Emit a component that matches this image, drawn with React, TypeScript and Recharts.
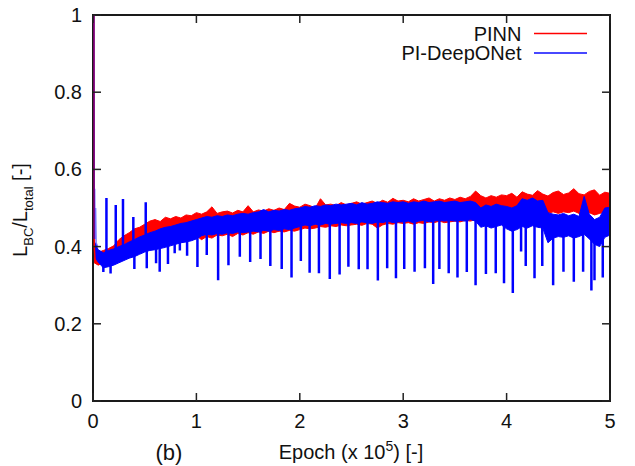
import React from "react";
import {
  ComposedChart,
  Area,
  Line,
  XAxis,
  YAxis,
  ReferenceArea,
  Label,
} from "recharts";

// band sampled every 0.05 (x 1e5 epochs), 0 .. 5
const RED_HI = [
  0.42, 0.385, 0.39, 0.395, 0.402, 0.418, 0.428, 0.436, 0.446, 0.45,
  0.458, 0.466, 0.47, 0.465, 0.476, 0.472, 0.478, 0.474, 0.482, 0.48,
  0.488, 0.484, 0.49, 0.503, 0.486, 0.49, 0.492, 0.487, 0.494, 0.49,
  0.506, 0.49, 0.495, 0.492, 0.498, 0.494, 0.5, 0.496, 0.512, 0.505,
  0.502, 0.51, 0.506, 0.5, 0.524, 0.508, 0.51, 0.506, 0.514, 0.508,
  0.512, 0.516, 0.51, 0.514, 0.518, 0.512, 0.52, 0.515, 0.525, 0.518,
  0.52, 0.516, 0.524, 0.518, 0.522, 0.526, 0.518, 0.524, 0.52, 0.526,
  0.522, 0.528, 0.524, 0.53, 0.544, 0.532, 0.526, 0.532, 0.528, 0.534,
  0.532, 0.538, 0.528, 0.542, 0.536, 0.533, 0.545, 0.536, 0.531, 0.54,
  0.544, 0.535, 0.539, 0.55, 0.537, 0.534, 0.543, 0.547, 0.533, 0.541,
  0.538,
];
const RED_LO = [
  0.36, 0.352, 0.358, 0.362, 0.37, 0.378, 0.388, 0.392, 0.398, 0.404,
  0.41, 0.414, 0.418, 0.42, 0.422, 0.425, 0.428, 0.43, 0.428, 0.432,
  0.428, 0.418, 0.426, 0.422, 0.43, 0.428, 0.432, 0.426, 0.434, 0.43,
  0.436, 0.432, 0.438, 0.434, 0.44, 0.436, 0.44, 0.438, 0.442, 0.44,
  0.444, 0.448, 0.446, 0.448, 0.452, 0.45, 0.454, 0.452, 0.456, 0.454,
  0.456, 0.458, 0.455, 0.46, 0.458, 0.448, 0.456, 0.46, 0.458, 0.462,
  0.46, 0.462, 0.458, 0.462, 0.46, 0.464, 0.462, 0.466, 0.462, 0.464,
  0.466, 0.464, 0.468, 0.466, 0.47, 0.48, 0.484, 0.482, 0.486, 0.484,
  0.486, 0.488, 0.484, 0.49, 0.486, 0.488, 0.484, 0.49, 0.486, 0.49,
  0.486, 0.49, 0.488, 0.492, 0.486, 0.484, 0.488, 0.482, 0.486, 0.49,
  0.488,
];
const BLUE_HI = [
  0.42, 0.392, 0.384, 0.39, 0.394, 0.4, 0.405, 0.412, 0.418, 0.425,
  0.43, 0.436, 0.44, 0.446, 0.45, 0.452, 0.456, 0.46, 0.462, 0.466,
  0.47, 0.474, 0.478, 0.476, 0.48, 0.478, 0.482, 0.48, 0.484, 0.486,
  0.484, 0.488, 0.49, 0.496, 0.49, 0.494, 0.492, 0.496, 0.494, 0.498,
  0.5, 0.504, 0.502, 0.506, 0.504, 0.508, 0.506, 0.51, 0.508, 0.51,
  0.512, 0.508, 0.514, 0.51, 0.512, 0.516, 0.514, 0.512, 0.516, 0.514,
  0.516, 0.512, 0.516, 0.514, 0.518, 0.514, 0.516, 0.518, 0.514, 0.516,
  0.518, 0.514, 0.516, 0.518, 0.514, 0.5, 0.508, 0.504, 0.51, 0.506,
  0.504, 0.5, 0.506, 0.524, 0.52, 0.526, 0.518, 0.52, 0.488, 0.484,
  0.482, 0.486, 0.48, 0.484, 0.478, 0.53, 0.484, 0.47, 0.476, 0.5,
  0.502,
];
const BLUE_LO = [
  0.38, 0.36, 0.345, 0.348, 0.352, 0.358, 0.364, 0.37, 0.374, 0.38,
  0.386, 0.39, 0.392, 0.395, 0.398, 0.402, 0.406, 0.41, 0.412, 0.415,
  0.42, 0.428, 0.432, 0.43, 0.434, 0.432, 0.436, 0.434, 0.438, 0.436,
  0.438, 0.44, 0.438, 0.442, 0.44, 0.444, 0.442, 0.446, 0.444, 0.448,
  0.452, 0.456, 0.454, 0.458, 0.456, 0.46, 0.458, 0.46, 0.462, 0.46,
  0.462, 0.46, 0.464, 0.462, 0.46, 0.464, 0.462, 0.466, 0.462, 0.464,
  0.464, 0.466, 0.462, 0.466, 0.468, 0.464, 0.466, 0.468, 0.466, 0.468,
  0.466, 0.468, 0.466, 0.47, 0.466, 0.45, 0.454, 0.448, 0.452, 0.456,
  0.446, 0.44, 0.444, 0.452, 0.448, 0.454, 0.45, 0.448, 0.41, 0.422,
  0.426, 0.424, 0.428, 0.422, 0.426, 0.432, 0.42, 0.406, 0.4, 0.424,
  0.43,
];

// initial transient
const RED_START_X = [0.01, 0.012, 0.02];
const RED_START_Y = [1.0, 0.4, 0.365];
const BLUE_START_X = [0.01, 0.012, 0.016, 0.02, 0.025, 0.03, 0.045];
const BLUE_START_Y = [1.0, 0.42, 0.55, 0.42, 0.5, 0.41, 0.4];

// sharp blue spikes (mostly downward)
const BLUE_SPIKE_X = [
  0.1, 0.13, 0.17, 0.22, 0.29, 0.39, 0.4, 0.51, 0.52, 0.61, 0.645, 0.725, 0.79, 0.84, 0.91,
  1.01, 1.1, 1.21, 1.31, 1.42, 1.52, 1.62, 1.715, 1.825, 1.92,
  2.01, 2.095, 2.185, 2.29, 2.385, 2.47, 2.57, 2.655, 2.755, 2.845, 2.93,
  3.01, 3.11, 3.21, 3.29, 3.35, 3.44, 3.525, 3.615, 3.7, 3.8, 3.895, 3.975,
  4.06, 4.14, 4.185, 4.27, 4.345, 4.45, 4.55, 4.65, 4.74, 4.82, 4.85, 4.93,
];
const BLUE_SPIKE_Y = [
  0.334, 0.526, 0.33, 0.508, 0.523, 0.477, 0.342, 0.515, 0.344, 0.357, 0.335, 0.355, 0.383, 0.39, 0.376,
  0.347, 0.378, 0.313, 0.352, 0.374, 0.36, 0.368, 0.35, 0.342, 0.32,
  0.363, 0.332, 0.331, 0.316, 0.328, 0.348, 0.341, 0.341, 0.312, 0.344, 0.318,
  0.342, 0.335, 0.344, 0.303, 0.342, 0.331, 0.32, 0.334, 0.3, 0.329, 0.331, 0.305,
  0.28, 0.387, 0.35, 0.318, 0.35, 0.3, 0.335, 0.309, 0.335, 0.286, 0.313, 0.32,
];

const X_TICKS = [0, 1, 2, 3, 4, 5];
const Y_TICKS = [0, 0.2, 0.4, 0.6, 0.8, 1];
const SERIES = ["PINN", "PI-DeepONet"];

const STEP = 0.05;
const FONT = "'Liberation Sans', Arial, Helvetica, sans-serif";
const RED = "#ff0000";
const BLUE = "#0000ff";

const PLOT = { left: 93, right: 610, top: 15, bottom: 401 };

const redBand = RED_HI.map((h, i) => ({ x: +(i * STEP).toFixed(2), r: [RED_LO[i], h] }));
const blueBand = BLUE_HI.map((h, i) => ({ x: +(i * STEP).toFixed(2), r: [BLUE_LO[i], h] }));

const redStart = RED_START_X.map((x, i) => ({ x, v: RED_START_Y[i] }));
const blueStart = BLUE_START_X.map((x, i) => ({ x, v: BLUE_START_Y[i] }));

const blueSpikes: { x: number; v: number }[] = [];
BLUE_SPIKE_X.forEach((x, i) => {
  const k = Math.round(x / STEP);
  const base = (BLUE_LO[k] + BLUE_HI[k]) / 2;
  blueSpikes.push({ x, v: base }, { x, v: BLUE_SPIKE_Y[i] }, { x, v: base });
});

const XTick = (props: any) => {
  const { x, payload } = props;
  return (
    <g>
      <line x1={x} x2={x} y1={PLOT.bottom} y2={PLOT.bottom - 8} stroke="#222" strokeWidth={1.5} />
      <line x1={x} x2={x} y1={PLOT.top} y2={PLOT.top + 8} stroke="#222" strokeWidth={1.5} />
      <text x={x} y={PLOT.bottom + 27} textAnchor="middle" fontSize={20} fontFamily={FONT} fill="#111">
        {String(payload.value)}
      </text>
    </g>
  );
};

const YTick = (props: any) => {
  const { y, payload } = props;
  return (
    <g>
      <line x1={PLOT.left} x2={PLOT.left + 8} y1={y} y2={y} stroke="#222" strokeWidth={1.5} />
      <line x1={PLOT.right} x2={PLOT.right - 8} y1={y} y2={y} stroke="#222" strokeWidth={1.5} />
      <text x={PLOT.left - 11} y={y + 7} textAnchor="end" fontSize={20} fontFamily={FONT} fill="#111">
        {String(payload.value)}
      </text>
    </g>
  );
};

const XLabel = () => (
  <g fontFamily={FONT} fill="#111">
    <text x={351} y={459} textAnchor="middle" fontSize={20}>
      Epoch (x 10<tspan fontSize={14} dy={-8}>5</tspan>
      <tspan dy={8}>) [-]</tspan>
    </text>
    <text x={169} y={460} textAnchor="middle" fontSize={22}>
      (b)
    </text>
  </g>
);

const YLabel = () => (
  <text
    x={27}
    y={210}
    transform="rotate(-90 27 210)"
    textAnchor="middle"
    fontSize={20}
    fontFamily={FONT}
    fill="#111"
  >
    L<tspan fontSize={13} dy={6}>BC</tspan>
    <tspan dy={-6}>/L</tspan>
    <tspan fontSize={13} dy={6}>total</tspan>
    <tspan dy={-6}> [-]</tspan>
  </text>
);

const LegendOverlay = () => (
  <svg
    width={635}
    height={466}
    style={{ position: "absolute", left: 0, top: 0, pointerEvents: "none" }}
  >
    <g fontFamily={FONT} fontSize={20} fill="#111" textAnchor="end">
      <text x={521.5} y={41}>{SERIES[0]}</text>
      <text x={521.5} y={60}>{SERIES[1]}</text>
    </g>
    <line x1={534} x2={587} y1={33.5} y2={33.5} stroke={RED} strokeWidth={1.6} />
    <line x1={534} x2={587} y1={53} y2={53} stroke="#4848ff" strokeWidth={1.8} />
  </svg>
);

export default function App() {
  return (
    <div style={{ position: "absolute", left: 0, top: 0, width: 635, height: 466, background: "#fff" }}>
      <ComposedChart width={635} height={466} margin={{ top: 15, right: 25, bottom: 0, left: 0 }}>
        <XAxis
          type="number"
          dataKey="x"
          domain={[0, 5]}
          ticks={X_TICKS}
          allowDataOverflow
          height={65}
          axisLine={false}
          tickLine={false}
          tickSize={0}
          tickMargin={0}
          tick={<XTick />}
          label={<Label content={<XLabel />} />}
        />
        <YAxis
          type="number"
          domain={[0, 1]}
          ticks={Y_TICKS}
          allowDataOverflow
          width={93}
          axisLine={false}
          tickLine={false}
          tickSize={0}
          tickMargin={0}
          tick={<YTick />}
          label={<Label content={<YLabel />} />}
        />
        <Area
          data={redBand}
          dataKey="r"
          name={SERIES[0]}
          type="linear"
          stroke={RED}
          strokeWidth={1}
          fill={RED}
          fillOpacity={1}
          dot={false}
          activeDot={false}
          isAnimationActive={false}
        />
        <Line
          data={redStart}
          dataKey="v"
          type="linear"
          stroke={RED}
          strokeWidth={1.5}
          dot={false}
          activeDot={false}
          isAnimationActive={false}
        />
        <Area
          data={blueBand}
          dataKey="r"
          name={SERIES[1]}
          type="linear"
          stroke={BLUE}
          strokeWidth={1}
          fill={BLUE}
          fillOpacity={1}
          dot={false}
          activeDot={false}
          isAnimationActive={false}
        />
        <Line
          data={blueStart}
          dataKey="v"
          type="linear"
          stroke={BLUE}
          strokeWidth={1.5}
          strokeOpacity={0.55}
          dot={false}
          activeDot={false}
          isAnimationActive={false}
        />
        <Line
          data={blueSpikes}
          dataKey="v"
          type="linear"
          stroke={BLUE}
          strokeWidth={2.5}
          dot={false}
          activeDot={false}
          isAnimationActive={false}
        />
        <ReferenceArea x1={0} x2={5} y1={0} y2={1} fill="none" fillOpacity={0} stroke="#1a1a1a" strokeWidth={2} />
      </ComposedChart>
      <LegendOverlay />
    </div>
  );
}
